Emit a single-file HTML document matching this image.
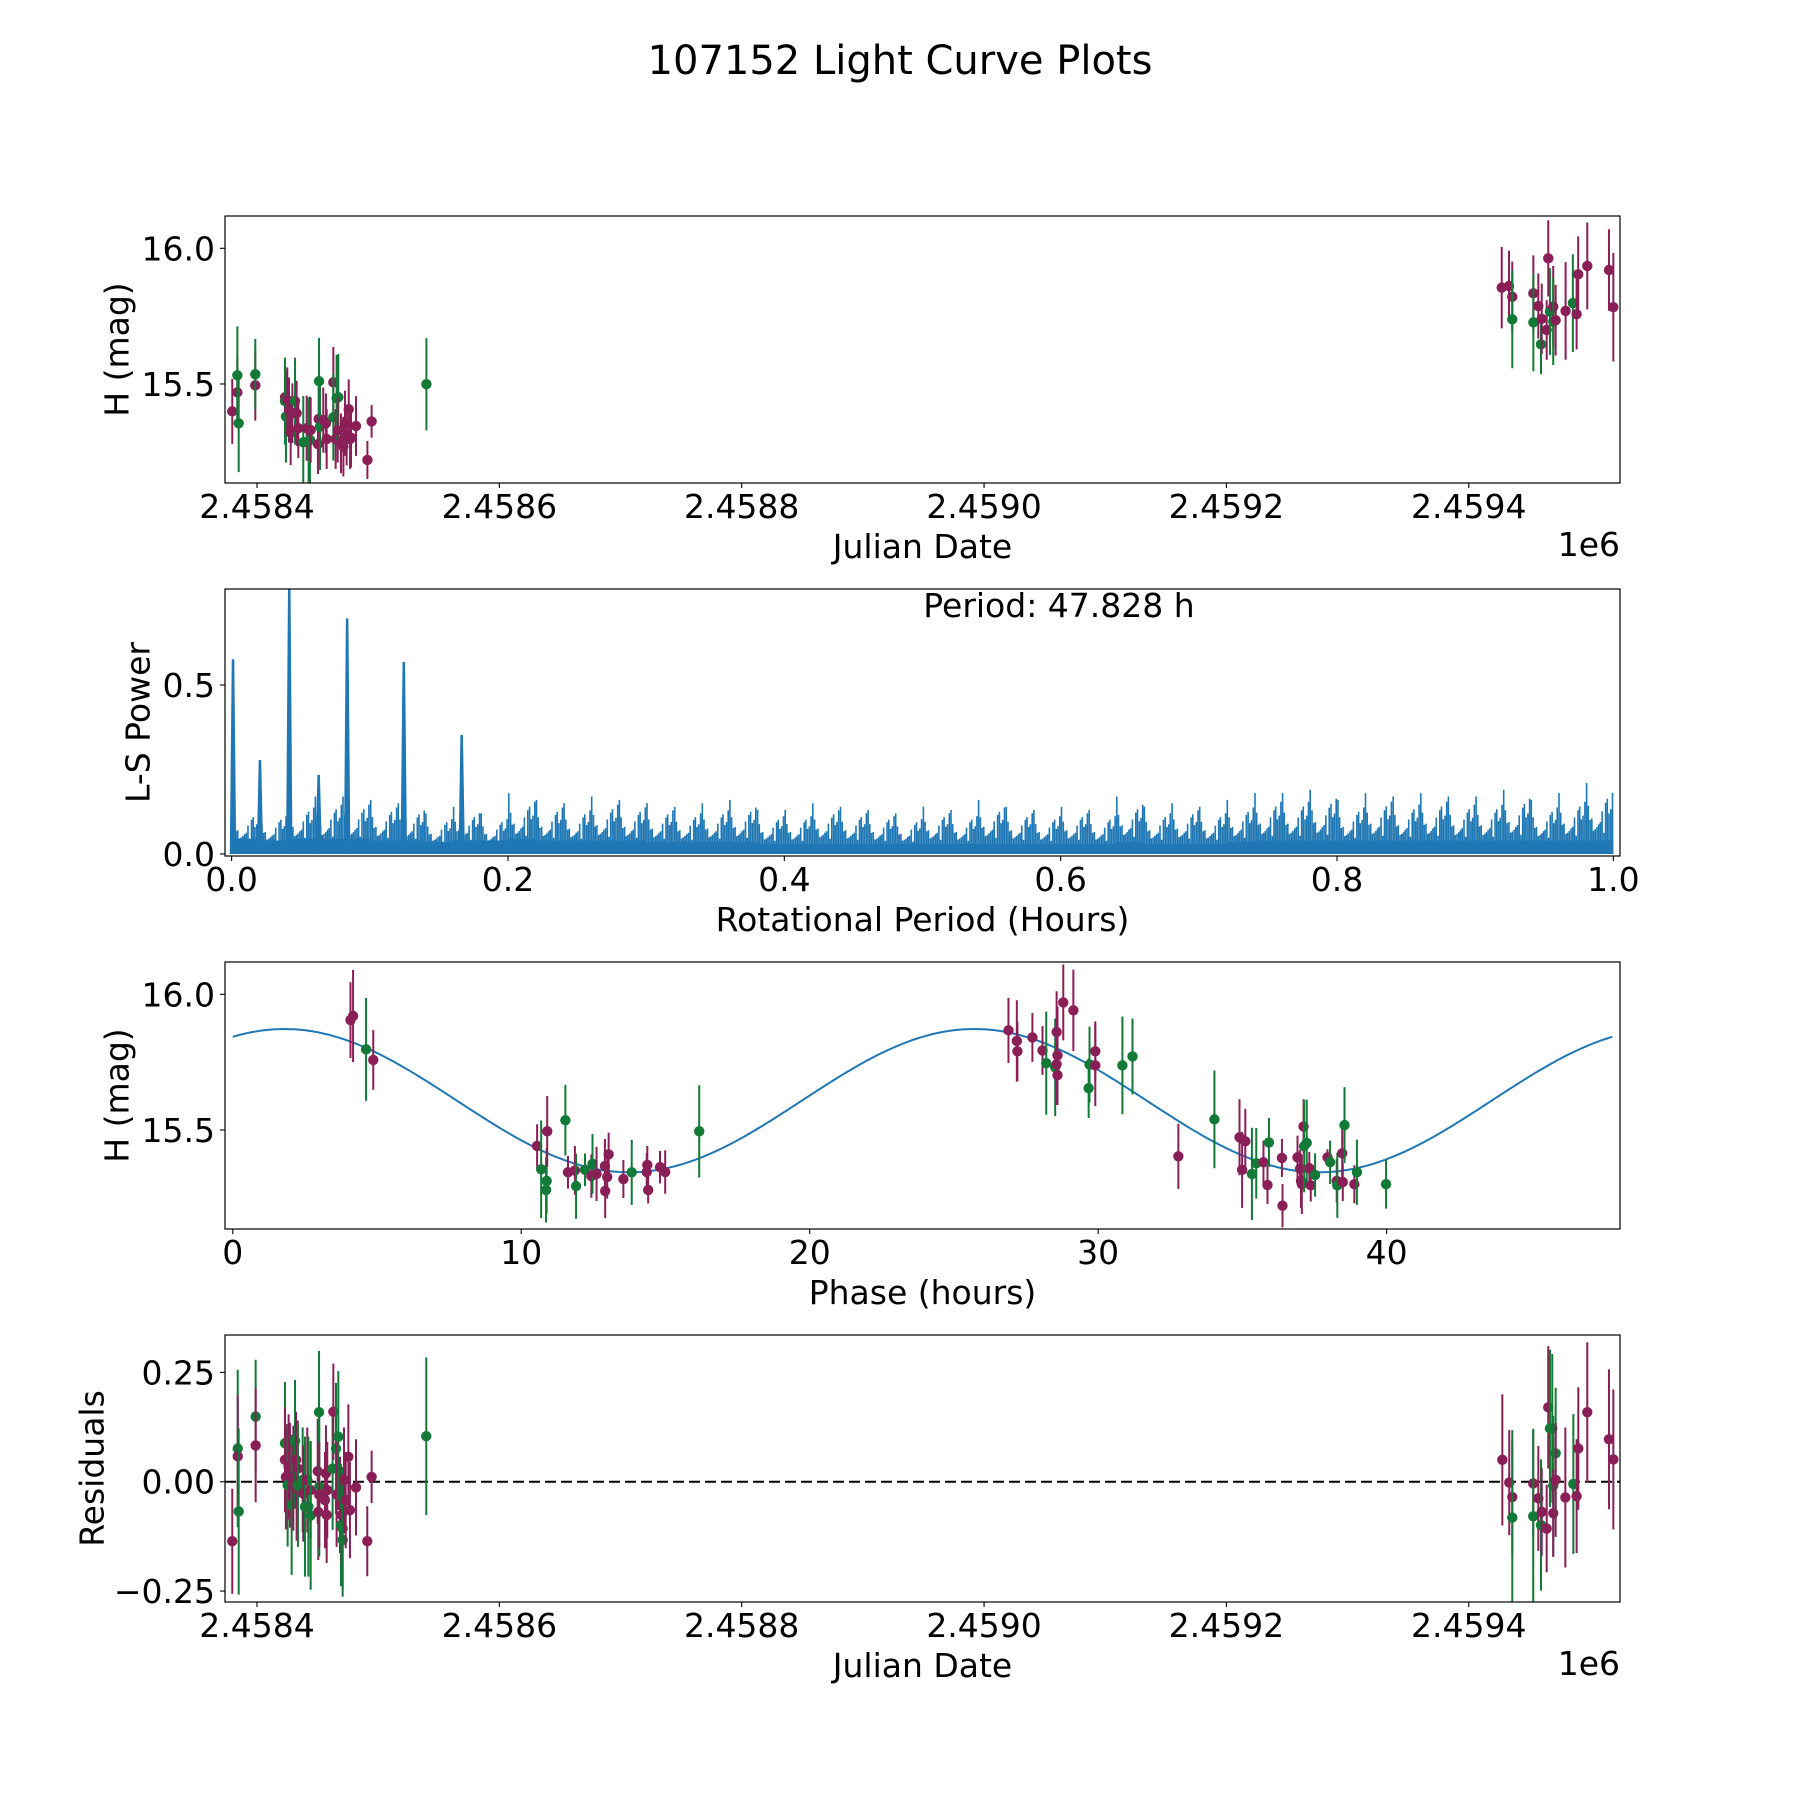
<!DOCTYPE html>
<html><head><meta charset="utf-8"><title>107152 Light Curve Plots</title>
<style>html,body{margin:0;padding:0;background:#fff}svg{display:block}text{font-family:"DejaVu Sans","Liberation Sans",sans-serif;fill:#000}</style>
</head><body>
<svg id="fig" xmlns="http://www.w3.org/2000/svg" width="1800" height="1800" viewBox="0 0 1800 1800">
<rect width="1800" height="1800" fill="#fff"/>
<text x="900" y="74" font-size="40" text-anchor="middle">107152 Light Curve Plots</text>
</svg>
<script>
// ---------- Panel 1: light curve vs Julian Date ----------
const p1Jd = [2458379.6,2458383.8,2458383.8,2458384.9,2458398.6,2458398.6,2458423.1,2458423.1,2458423.9,2458425.0,2458426.4,2458427.8,2458429.2,2458431.4,2458432.7,2458434.1,2458438.2,2458441.0,2458442.6,2458443.7,2458444.3,2458450.3,2458450.9,2458451.2,2458452.0,2458454.7,2458456.9,2458457.5,2458463.0,2458463.0,2458464.9,2458465.7,2458467.1,2458466.6,2458469.3,2458471.3,2458472.6,2458474.0,2458475.7,2458476.8,2458477.6,2458481.7,2458491.1,2458494.6,2458539.8,
2459427.2,2459433.2,2459435.9,2459435.9,2459453.3,2459453.3,2459457.4,2459459.6,2459460.2,2459464.3,2459465.6,2459467.0,2459469.7,2459469.7,2459471.7,2459479.9,2459485.9,2459489.0,2459490.3,2459497.8,2459515.7,2459519.3];
const p1Mag = [15.399,15.469,15.532,15.355,15.495,15.536,15.451,15.437,15.380,15.441,15.404,15.321,15.392,15.437,15.392,15.337,15.285,15.337,15.290,15.294,15.330,15.278,15.371,15.510,15.343,15.367,15.355,15.297,15.506,15.377,15.297,15.447,15.451,15.330,15.281,15.269,15.355,15.310,15.407,15.297,15.302,15.345,15.220,15.362,15.499,
15.855,15.861,15.821,15.738,15.834,15.727,15.787,15.646,15.740,15.699,15.963,15.767,15.785,15.730,15.735,15.769,15.798,15.757,15.904,15.935,15.920,15.783];
const p1Err = [0.12,0.13,0.18,0.18,0.13,0.13,0.12,0.16,0.17,0.12,0.12,0.12,0.11,0.16,0.12,0.11,0.17,0.12,0.16,0.16,0.12,0.11,0.12,0.16,0.16,0.12,0.11,0.11,0.13,0.16,0.11,0.16,0.16,0.12,0.11,0.11,0.12,0.11,0.11,0.11,0.11,0.11,0.07,0.06,0.17,
0.15,0.13,0.13,0.18,0.14,0.18,0.12,0.11,0.13,0.11,0.14,0.16,0.15,0.16,0.13,0.18,0.18,0.13,0.14,0.16,0.15,0.20];
const p1Band = ['r','r','g','g','r','g','r','g','g','r','r','r','r','g','r','r','g','r','g','g','r','r','r','g','g','r','r','r','r','g','r','g','g','r','r','r','r','r','r','r','r','r','r','r','g',
'r','r','r','g','r','g','r','g','r','r','r','g','r','g','r','r','g','r','r','r','r','r'];
const p1XTicks = [2458400,2458600,2458800,2459000,2459200,2459400];
const p1XTickLabels = ['2.4584','2.4586','2.4588','2.4590','2.4592','2.4594'];
const magTicks = [15.5,16.0];
const magTickLabels = ['15.5','16.0'];

// ---------- Panel 2: Lomb-Scargle periodogram ----------
const lsPeakPeriod = [0.001,0.0205,0.0417,0.063,0.0836,0.1246,0.1665];
const lsPeakPower = [0.576,0.278,0.79,0.234,0.697,0.568,0.352];
const lsBinStart = [0.00,0.02,0.04,0.06,0.08,0.10,0.12,0.14,0.16,0.18,0.20,0.22,0.24,0.26,0.28,0.30,0.32,0.34,0.36,0.38,0.40,0.42,0.44,0.46,0.48,0.50,0.52,0.54,0.56,0.58,0.60,0.62,0.64,0.66,0.68,0.70,0.72,0.74,0.76,0.78,0.80,0.82,0.84,0.86,0.88,0.90,0.92,0.94,0.96,0.98];
const lsNoiseMax = [0.14,0.13,0.16,0.17,0.17,0.16,0.15,0.12,0.14,0.12,0.18,0.16,0.15,0.17,0.16,0.15,0.14,0.15,0.16,0.13,0.13,0.15,0.14,0.13,0.12,0.14,0.13,0.16,0.14,0.13,0.14,0.13,0.17,0.14,0.15,0.14,0.16,0.18,0.18,0.19,0.16,0.18,0.17,0.18,0.17,0.17,0.19,0.16,0.18,0.21];
const lsNoiseBase = [0.045,0.04,0.045,0.045,0.045,0.04,0.04,0.035,0.04,0.04,0.045,0.04,0.04,0.04,0.04,0.035,0.035,0.035,0.035,0.03,0.03,0.03,0.03,0.03,0.03,0.03,0.03,0.03,0.03,0.03,0.03,0.03,0.035,0.03,0.03,0.03,0.035,0.04,0.04,0.04,0.04,0.04,0.04,0.04,0.04,0.04,0.04,0.04,0.04,0.04];
const lsXTicks = [0,0.2,0.4,0.6,0.8,1.0];
const lsXTickLabels = ['0.0','0.2','0.4','0.6','0.8','1.0'];
const lsYTicks = [0,0.5];
const lsYTickLabels = ['0.0','0.5'];

// ---------- Panel 3: phase-folded ----------
const p3Phase = [4.08,4.17,4.62,4.87,10.55,10.69,10.86,10.88,10.90,11.53,11.62,11.86,11.90,12.21,12.43,12.47,12.61,12.90,12.91,12.98,13.03,13.54,13.83,14.35,14.37,14.40,14.81,14.99,16.17,
26.89,27.18,27.20,27.72,28.07,28.20,28.51,28.56,28.59,28.56,28.59,28.79,29.14,29.67,29.70,29.90,29.90,30.84,31.19,32.78,34.03,34.90,34.99,35.10,35.33,35.48,35.73,35.87,35.92,36.37,36.39,36.91,37.00,37.03,37.06,37.12,37.14,37.23,37.32,37.37,37.52,37.95,38.04,38.27,38.29,38.46,38.48,38.54,38.88,38.97,39.98];
const p3Mag = [15.905,15.920,15.797,15.758,15.441,15.355,15.279,15.312,15.495,15.536,15.344,15.351,15.293,15.353,15.330,15.375,15.338,15.367,15.275,15.327,15.410,15.319,15.344,15.345,15.371,15.279,15.363,15.345,15.495,
15.867,15.828,15.790,15.841,15.793,15.746,15.731,15.861,15.775,15.742,15.702,15.970,15.941,15.654,15.741,15.790,15.738,15.738,15.771,15.403,15.539,15.473,15.353,15.458,15.338,15.377,15.381,15.297,15.454,15.397,15.221,15.399,15.357,15.312,15.300,15.513,15.440,15.452,15.359,15.296,15.334,15.399,15.381,15.312,15.296,15.414,15.308,15.518,15.300,15.344,15.300];
const p3Err = [0.14,0.17,0.19,0.11,0.08,0.18,0.12,0.12,0.13,0.13,0.06,0.09,0.12,0.06,0.08,0.11,0.10,0.10,0.10,0.08,0.08,0.07,0.12,0.07,0.07,0.05,0.06,0.08,0.17,
0.12,0.15,0.11,0.09,0.09,0.19,0.18,0.15,0.18,0.15,0.11,0.14,0.15,0.11,0.14,0.11,0.15,0.18,0.14,0.12,0.18,0.14,0.14,0.12,0.17,0.13,0.08,0.07,0.09,0.07,0.08,0.08,0.07,0.10,0.11,0.10,0.17,0.16,0.06,0.06,0.08,0.03,0.08,0.08,0.12,0.11,0.07,0.14,0.07,0.12,0.09];
const p3Band = ['r','r','g','r','r','g','g','g','r','g','r','r','g','g','r','g','r','r','r','r','r','r','g','r','r','r','r','r','g',
'r','r','r','r','r','g','g','r','r','r','r','r','r','g','g','r','r','g','g','r','g','r','r','r','g','g','r','r','g','r','r','r','r','r','r','r','g','g','r','r','g','r','g','r','g','r','r','g','r','g','g'];
const phaseTicks = [0,10,20,30,40];
const phaseTickLabels = ['0','10','20','30','40'];
const fitMean = [15.608];
const fitAmp = [0.264];
const fitPeakPhase = [1.79];
const fitHalfPeriod = [23.914];
const foldPeriod = [47.828];

// ---------- Panel 4: residuals ----------
const p4Jd = [2458379.6,2458384.1,2458384.1,2458384.9,2458398.9,2458398.9,2458423.1,2458423.1,2458423.9,2458425.3,2458426.1,2458427.2,2458428.6,2458430.0,2458431.4,2458432.2,2458432.7,2458433.6,2458433.8,2458437.7,2458438.2,2458439.6,2458441.5,2458442.4,2458444.3,2458444.3,2458450.1,2458450.6,2458451.2,2458451.4,2458451.4,2458456.1,2458456.9,2458457.5,2458458.0,2458462.4,2458463.0,2458465.2,2458465.7,2458467.1,2458468.5,2458469.3,2458469.9,2458470.7,2458470.7,2458471.8,2458473.2,2458475.4,2458476.7,2458481.7,2458491.0,2458494.6,2458539.7,
2459427.7,2459433.4,2459435.9,2459435.9,2459453.2,2459453.2,2459457.4,2459459.6,2459460.2,2459464.3,2459465.6,2459467.0,2459468.9,2459469.7,2459469.7,2459471.7,2459471.7,2459479.7,2459486.3,2459489.0,2459490.4,2459497.8,2459515.7,2459519.3];
const p4Res = [-0.136,0.076,0.058,-0.068,0.149,0.083,0.088,0.050,0.011,-0.008,0.034,0.015,-0.053,0.008,0.093,0.050,-0.015,0.030,-0.009,0.004,-0.027,-0.057,0.004,-0.057,-0.019,-0.077,0.024,-0.069,0.159,-0.011,-0.030,-0.042,0.019,-0.076,-0.019,0.030,0.160,0.076,-0.029,0.103,-0.053,-0.099,-0.076,-0.107,-0.133,0.004,-0.042,0.057,-0.065,-0.013,-0.136,0.011,0.104,
0.050,-0.002,-0.035,-0.082,-0.004,-0.079,-0.038,-0.099,-0.069,-0.107,0.170,0.122,0.122,-0.009,-0.072,0.065,0.004,-0.036,-0.005,-0.033,0.076,0.159,0.097,0.051];
const p4Err = [0.12,0.18,0.14,0.19,0.13,0.13,0.14,0.12,0.12,0.14,0.12,0.12,0.16,0.12,0.14,0.11,0.12,0.11,0.14,0.12,0.11,0.16,0.12,0.16,0.11,0.17,0.12,0.11,0.14,0.16,0.12,0.11,0.11,0.11,0.11,0.14,0.11,0.15,0.12,0.15,0.11,0.14,0.11,0.14,0.13,0.12,0.11,0.12,0.11,0.11,0.08,0.06,0.18,
0.15,0.12,0.13,0.20,0.12,0.20,0.12,0.15,0.10,0.10,0.14,0.18,0.17,0.16,0.10,0.15,0.13,0.16,0.16,0.13,0.14,0.16,0.16,0.16];
const p4Band = ['r','g','r','g','g','r','g','r','r','g','r','r','g','r','g','r','r','r','g','g','r','g','r','g','r','g','r','r','g','g','r','r','r','r','r','g','r','g','r','g','r','g','r','g','g','r','r','r','r','r','r','r','g',
'r','r','r','g','r','g','r','g','r','r','r','g','g','g','r','g','r','r','g','r','r','r','r','r'];
const resTicks = [-0.25,0,0.25];
const resTickLabels = ['\u22120.25','0.00','0.25'];

// ---------- drawing ----------
const NS = 'http://www.w3.org/2000/svg';
const svg = document.getElementById('fig');
const AX_L = 225, AX_W = 1395, AX_H = 267;
const PURPLE = '#8a1f57', GREEN = '#127a36', BLUE = '#1f77b4';
function mk(tag, attrs, parent) {
  const e = document.createElementNS(NS, tag);
  for (const k in attrs) e.setAttribute(k, attrs[k]);
  (parent || svg).appendChild(e);
  return e;
}
function makeAxes(id, top, xmin, xmax, ymin, ymax) {
  const g = mk('g', {});
  
  
  const clip = mk('clipPath', {id: 'clip-' + id}, g);
  mk('rect', {x: AX_L, y: top, width: AX_W, height: AX_H}, clip);
  const plot = mk('g', {'clip-path': 'url(#clip-' + id + ')'}, g);
  
  
  const sx = v => AX_L + (v - xmin) / (xmax - xmin) * AX_W;
  const sy = v => top + AX_H - (v - ymin) / (ymax - ymin) * AX_H;
  return {g, plot, sx, sy, top};
}
function frame(ax) {
  const r = mk('rect', {x: AX_L, y: ax.top, width: AX_W, height: AX_H, fill: 'none', stroke: '#000', 'stroke-width': 1.2}, ax.g);
  
  
}
function xTicks(ax, vals, labels) {
  const b = ax.top + AX_H;
  vals.forEach((v, i) => {
    const x = ax.sx(v);
    mk('line', {x1: x, x2: x, y1: b, y2: b + 5, stroke: '#000', 'stroke-width': 1.1}, ax.g);
    const t = mk('text', {x: x, y: b + 35, 'font-size': 33, 'text-anchor': 'middle'}, ax.g);
    
    
    t.textContent = labels[i];
  });
}
function yTicks(ax, vals, labels) {
  vals.forEach((v, i) => {
    const y = ax.sy(v);
    mk('line', {x1: AX_L - 5, x2: AX_L, y1: y, y2: y, stroke: '#000', 'stroke-width': 1.1}, ax.g);
    const t = mk('text', {x: 215, y: y + 12, 'font-size': 33, 'text-anchor': 'end'}, ax.g);
    
    
    t.textContent = labels[i];
  });
}
function xLabel(ax, txt) {
  const t = mk('text', {x: AX_L + AX_W / 2, y: ax.top + AX_H + 75, 'font-size': 33, 'text-anchor': 'middle'}, ax.g);
  
  
  t.textContent = txt;
}
function yLabel(ax, txt, cx) {
  const cy = ax.top + AX_H / 2;
  const t = mk('text', {x: cx, y: cy, 'font-size': 33, 'text-anchor': 'middle', 'dominant-baseline': 'central', transform: 'rotate(-90 ' + cx + ' ' + cy + ')'}, ax.g);
  
  
  t.textContent = txt;
}
function offsetText(ax) {
  const t = mk('text', {x: AX_L + AX_W, y: ax.top + AX_H + 73, 'font-size': 33, 'text-anchor': 'end'}, ax.g);
  
  
  t.textContent = '1e6';
}
function errPoints(ax, xs, ys, es, bands) {
  xs.forEach((xv, i) => {
    const c = bands[i] === 'g' ? GREEN : PURPLE;
    const x = ax.sx(xv);
    const l = mk('line', {x1: x, x2: x, y1: ax.sy(ys[i] - es[i]), y2: ax.sy(ys[i] + es[i]), stroke: c, 'stroke-width': 2}, ax.plot);
    
    
    const d = mk('circle', {cx: x, cy: ax.sy(ys[i]), r: 5.2, fill: c}, ax.plot);
    
    
  });
}

const JD_MIN = 2458373.6, JD_MAX = 2459524.8, MAG_MIN = 15.135, MAG_MAX = 16.119;

// Panel 1
const ax1 = makeAxes('light-curve', 216, JD_MIN, JD_MAX, MAG_MIN, MAG_MAX);
errPoints(ax1, p1Jd, p1Mag, p1Err, p1Band);
frame(ax1); xTicks(ax1, p1XTicks, p1XTickLabels); yTicks(ax1, magTicks, magTickLabels);
xLabel(ax1, 'Julian Date'); yLabel(ax1, 'H (mag)', 117); offsetText(ax1);

// Panel 2
const ax2 = makeAxes('periodogram', 589, -0.0048, 1.0048, -0.006, 0.784);
const spikeFrac = [1, 0.42, 0.63, 0.35, 0.78, 0.5, 0.3, 0.68, 0.45, 0.86, 0.38, 0.57, 0.33, 0.72, 0.48, 0.6];
let basePath = 'M' + ax2.sx(0) + ' ' + ax2.sy(0);
lsBinStart.forEach((b, i) => {
  basePath += ' L' + ax2.sx(b) + ' ' + ax2.sy(lsNoiseBase[i]) + ' L' + ax2.sx(b + 0.02) + ' ' + ax2.sy(lsNoiseBase[i]);
});
basePath += ' L' + ax2.sx(1) + ' ' + ax2.sy(0) + ' Z';
const base = mk('path', {d: basePath, fill: BLUE}, ax2.plot);


let spikes = '';
lsBinStart.forEach((b, i) => {
  spikeFrac.forEach((f, k) => {
    const kk = (k * 7) % spikeFrac.length;
    const x = ax2.sx(b + (kk + 0.5) * 0.02 / spikeFrac.length);
    spikes += 'M' + x.toFixed(1) + ' ' + ax2.sy(0) + ' V' + ax2.sy(lsNoiseMax[i] * f).toFixed(1) + ' ';
  });
});
const sp = mk('path', {d: spikes, stroke: BLUE, 'stroke-width': 1.6, fill: 'none'}, ax2.plot);


lsPeakPeriod.forEach((p, i) => {
  const x = ax2.sx(p);
  const pk = mk('path', {d: 'M' + (x - 2) + ' ' + ax2.sy(0) + ' L' + x + ' ' + ax2.sy(lsPeakPower[i]) + ' L' + (x + 2) + ' ' + ax2.sy(0), stroke: BLUE, 'stroke-width': 2.5, fill: BLUE}, ax2.plot);
  
  
});
frame(ax2); xTicks(ax2, lsXTicks, lsXTickLabels); yTicks(ax2, lsYTicks, lsYTickLabels);
xLabel(ax2, 'Rotational Period (Hours)'); yLabel(ax2, 'L-S Power', 138);
const pt = mk('text', {x: 1059, y: 617, 'font-size': 33, 'text-anchor': 'middle'}, ax2.g);


pt.textContent = 'Period: ' + foldPeriod[0].toFixed(3) + ' h';

// Panel 3
const ax3 = makeAxes('phase-fold', 962, -0.27, 48.09, MAG_MIN, MAG_MAX);
let cd = '';
for (let k = 0; k <= 400; k++) {
  const t = foldPeriod[0] * k / 400;
  const m = fitMean[0] + fitAmp[0] * Math.cos(2 * Math.PI * (t - fitPeakPhase[0]) / fitHalfPeriod[0]);
  cd += (k ? ' L' : 'M') + ax3.sx(t).toFixed(1) + ' ' + ax3.sy(m).toFixed(1);
}
const curve = mk('path', {d: cd, stroke: BLUE, 'stroke-width': 2, fill: 'none'}, ax3.plot);


errPoints(ax3, p3Phase, p3Mag, p3Err, p3Band);
frame(ax3); xTicks(ax3, phaseTicks, phaseTickLabels); yTicks(ax3, magTicks, magTickLabels);
xLabel(ax3, 'Phase (hours)'); yLabel(ax3, 'H (mag)', 117);

// Panel 4
const ax4 = makeAxes('residuals', 1335, JD_MIN, JD_MAX, -0.275, 0.3355);
const zl = mk('line', {x1: AX_L, x2: AX_L + AX_W, y1: ax4.sy(0), y2: ax4.sy(0), stroke: '#000', 'stroke-width': 2, 'stroke-dasharray': '11 5'}, ax4.plot);


errPoints(ax4, p4Jd, p4Res, p4Err, p4Band);
frame(ax4); xTicks(ax4, p1XTicks, p1XTickLabels); yTicks(ax4, resTicks, resTickLabels);
xLabel(ax4, 'Julian Date'); yLabel(ax4, 'Residuals', 92); offsetText(ax4);
</script>
</body></html>
